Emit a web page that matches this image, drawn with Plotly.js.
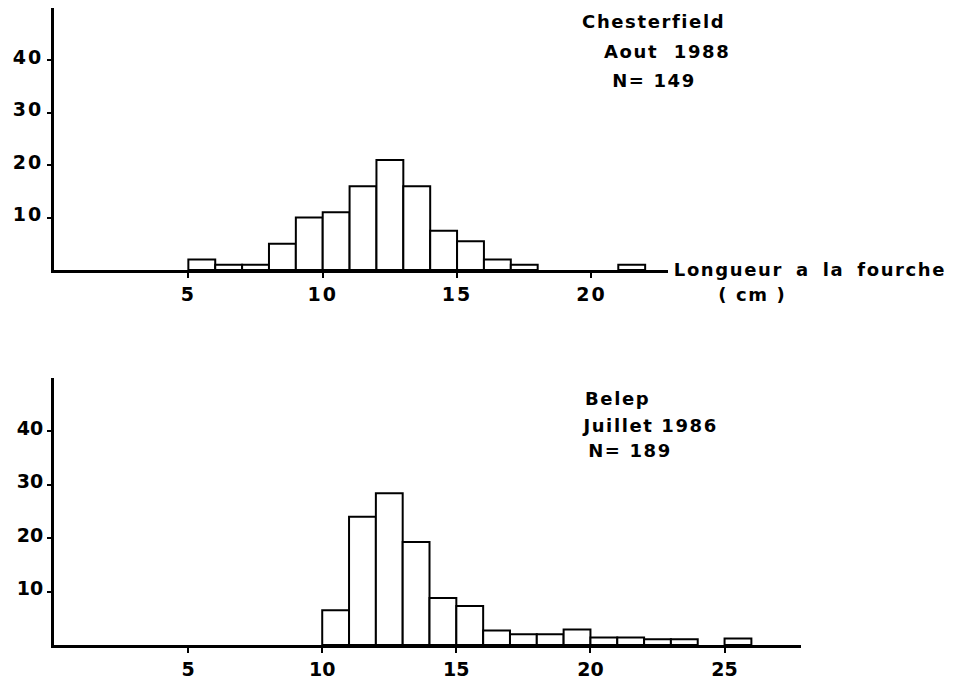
<!DOCTYPE html>
<html>
<head>
<meta charset="utf-8">
<script src="https://cdn.plot.ly/plotly-3.0.1.min.js"></script>
<style>
html,body{margin:0;padding:0;background:#fff;}
#chart{width:954px;height:679px;}
#chart .annotation-text{letter-spacing:1.6px;}
#chart .xtick text,#chart .ytick text{letter-spacing:2px;}
</style>
</head>
<body>
<div id="chart"></div>
<script>
// Chesterfield, Aout 1988 (N = 149) — bin lower edges (cm) and frequency (%)
const chesterBins = [5, 6, 7, 8, 9, 10, 11, 12, 13, 14, 15, 16, 17, 21];
const chesterFreq = [2, 1, 1, 5, 10, 11, 16, 21, 16, 7.5, 5.5, 2, 1, 1];

// Belep, Juillet 1986 (N = 189)
const belepBins = [10, 11, 12, 13, 14, 15, 16, 17, 18, 19, 20, 21, 22, 23, 25];
const belepFreq = [6.5, 24, 28.4, 19.3, 8.8, 7.3, 2.7, 2, 2, 2.9, 1.4, 1.4, 1.1, 1.1, 1.2];

const xTicks = [5, 10, 15, 20, 25];
const yTicks = [10, 20, 30, 40];

const W = 954, H = 679;
const px = v => v / W;
const py = v => 1 - v / H;

const barStyle = {
  type: 'bar', width: 1, offset: 0,
  marker: {color: '#ffffff', line: {color: '#000000', width: 2}},
  hoverinfo: 'skip', showlegend: false
};

const traces = [
  Object.assign({}, barStyle, {x: chesterBins, y: chesterFreq, xaxis: 'x', yaxis: 'y'}),
  Object.assign({}, barStyle, {x: belepBins, y: belepFreq, xaxis: 'x2', yaxis: 'y2'})
];

const font = {family: 'DejaVu Sans, sans-serif', size: 18, color: '#000', weight: 'bold'};
const tickFont = {family: 'DejaVu Sans, sans-serif', size: 19, color: '#000', weight: 'bold'};

function xAxis(domain, range, anchor) {
  return {domain: domain, range: range, anchor: anchor, showgrid: false, zeroline: false,
    showline: true, linecolor: '#000', linewidth: 3, ticks: 'outside', ticklen: 5, tickwidth: 2,
    tickcolor: '#000', tickvals: xTicks, ticktext: xTicks.map(String), tickfont: tickFont, fixedrange: true};
}
function yAxis(domain, anchor) {
  return {domain: domain, range: [0, 50], anchor: anchor, showgrid: false, zeroline: false,
    showline: true, linecolor: '#000', linewidth: 3, ticks: 'outside', ticklen: 4, tickwidth: 2,
    tickcolor: '#000', tickvals: yTicks, ticktext: yTicks.map(String), tickfont: tickFont,
    ticklabelshift: -3, fixedrange: true};
}

function ann(text, x, y) {
  return {text: text, xref: 'paper', yref: 'paper', x: px(x), y: py(y),
    xanchor: 'center', yanchor: 'middle', showarrow: false, font: font};
}

const layout = {
  width: W, height: H,
  margin: {l: 0, r: 0, t: 0, b: 0},
  paper_bgcolor: '#fff', plot_bgcolor: 'rgba(0,0,0,0)',
  bargap: 0,
  xaxis: xAxis([px(54), px(668)], [0, 22.85], 'y'),
  yaxis: yAxis([py(270), py(8)], 'x'),
  xaxis2: xAxis([px(54), px(801)], [0, 27.85], 'y2'),
  yaxis2: yAxis([py(645), py(378)], 'x2'),
  annotations: [
    ann('Chesterfield', 653, 22),
    ann('Aout&nbsp;&nbsp;1988', 667, 52),
    ann('N= 149', 654, 80),
    ann('Longueur\u2009 a\u2009 la\u2009 fourche', 810, 270),
    ann('( cm )', 752, 294),
    ann('Belep', 617, 398),
    ann('Juillet&nbsp;1986', 649, 425),
    ann('N= 189', 630, 450)
  ]
};

Plotly.newPlot('chart', traces, layout, {displayModeBar: false, staticPlot: true});
</script>
</body>
</html>
